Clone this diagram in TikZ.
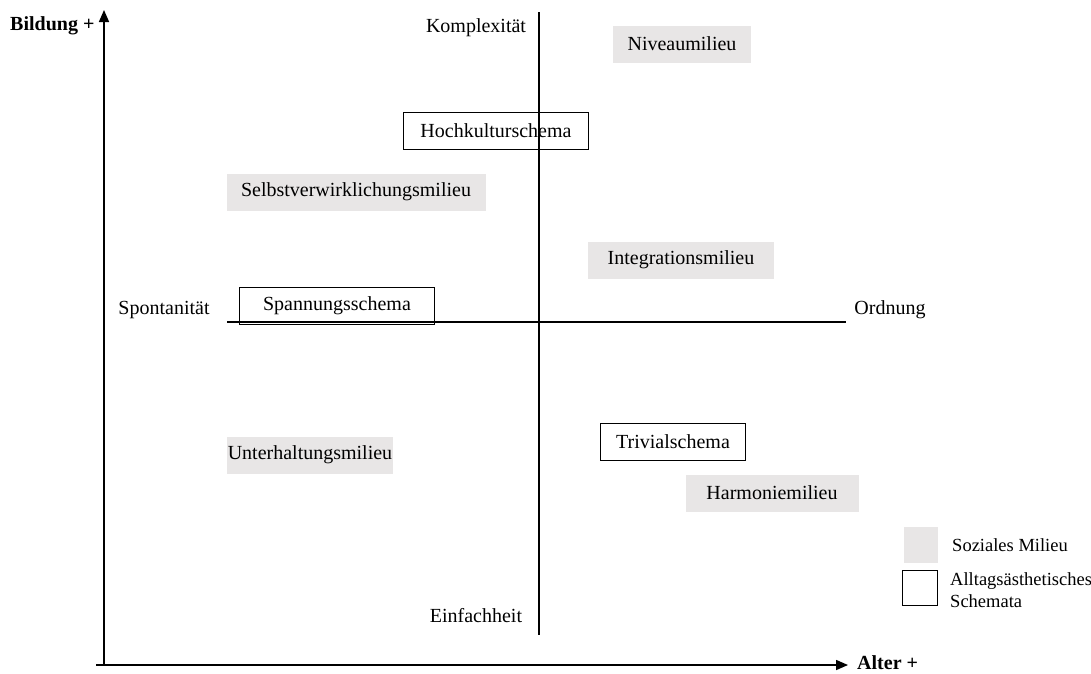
\documentclass[tikz,border=0pt]{standalone}
\usepackage{fontspec}
\setmainfont{Liberation Serif}
\usetikzlibrary{arrows.meta,positioning}
\definecolor{milieugray}{RGB}{232,230,230}
\newcommand{\boxht}{37pt}

\begin{document}
\begin{tikzpicture}[x=1pt,y=-1pt,
  every node/.style={font=\fontsize{20}{24}\selectfont},
  milieu/.style={fill=milieugray, minimum height=\boxht, inner sep=0pt},
  schema/.style={draw, line width=1.5pt, minimum height=\boxht, inner sep=0pt},
  axis/.style={line width=1.6pt, -{Triangle[length=12pt,width=10pt]}}]
\useasboundingbox (0,0) rectangle (1091,673);

          %% axes
      \coordinate (orig) at (104,665);
      \coordinate (ytip) at (104,10);
      \coordinate (xtip) at (848,665);
      \coordinate (xstart) at (96,665);
      \draw[axis] (orig) to (ytip);
      \draw[axis] (xstart) to (xtip);
      \node[font=\fontsize{20}{24}\selectfont\bfseries, anchor=east] (bildung) at (98,26) {Bildung +};
      \node[font=\fontsize{20}{24}\selectfont\bfseries, anchor=west, inner sep=1pt] (alter) at (856,663) {Alter +};

          %% the two dimensions
      \node (komplex) at (476,28) {Komplexität};
      \node (einfach) at (476,616) {Einfachheit};
      \node (spontan) at (164,310) {Spontanität};
      \node (ordnung) at (890,310) {Ordnung};
      \coordinate (vtop) at (539,12);
      \coordinate (vbot) at (539,635);
      \coordinate (hleft) at (227,322);
      \coordinate (hright) at (846,322);
      \draw[line width=1.6pt] (vtop) to (vbot);
      \draw[line width=1.6pt] (hleft) to (hright);

          %% soziale Milieus
      \node[milieu, minimum width=138pt] (niveau) at (682,44) {Niveaumilieu};
      \node[milieu, minimum width=259pt] (selbst) at (356,192) {Selbstverwirklichungsmilieu};
      \node[milieu, minimum width=186pt] (integ) at (681,260) {Integrationsmilieu};
      \node[milieu, minimum width=166pt] (unterh) at (310,455) {Unterhaltungsmilieu};
      \node[milieu, minimum width=173pt] (harmon) at (772,493) {Harmoniemilieu};

          %% alltagsaesthetische Schemata
      \node[schema, minimum width=185pt] (hoch) at (496,131) {Hochkulturschema};
      \node[schema, minimum width=195pt] (spann) at (337,306) {Spannungsschema};
      \node[schema, minimum width=145pt] (trivial) at (673,442) {Trivialschema};
      \draw[line width=1.6pt] (vtop) to (vbot);

          %% legend
      \node[milieu, minimum width=34pt, minimum height=36pt] (legm) at (921,545) {};
      \node[anchor=west, inner sep=1pt, font=\fontsize{18.5}{22}\selectfont] (legmtext) at (951,545) {Soziales Milieu};
      \node[schema, minimum width=35pt, minimum height=35pt] (legs) at (920,588) {};
      \node[anchor=west, align=left, inner sep=1pt, font=\fontsize{18.5}{22}\selectfont] (legstext) at (949,590) {Alltagsästhetisches\\Schemata};

        \end{tikzpicture}
\end{document}
